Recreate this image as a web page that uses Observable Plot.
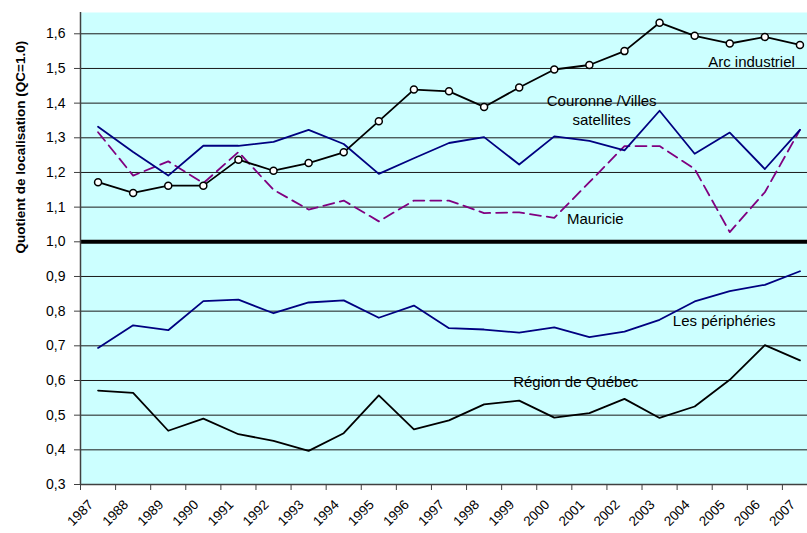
<!DOCTYPE html>
<html><head><meta charset="utf-8">
<script src="https://cdn.jsdelivr.net/npm/d3@7"></script>
<script src="https://cdn.jsdelivr.net/npm/@observablehq/plot@0.6"></script>
<style>
body{margin:0;background:#fff;overflow:hidden}
#chart svg{font-family:"Liberation Sans",Arial,sans-serif;display:block}
</style>
</head><body><div id="chart"></div>
<script>
const years = [1987,1988,1989,1990,1991,1992,1993,1994,1995,1996,1997,1998,1999,2000,2001,2002,2003,2004,2005,2006,2007];
const arcIndustriel = [1.172,1.141,1.162,1.162,1.237,1.205,1.227,1.258,1.348,1.439,1.434,1.389,1.445,1.497,1.510,1.550,1.632,1.594,1.572,1.591,1.568];
const couronne      = [1.332,1.259,1.191,1.277,1.277,1.288,1.323,1.282,1.196,1.241,1.285,1.302,1.223,1.304,1.291,1.264,1.378,1.254,1.315,1.210,1.323];
const mauricie      = [1.316,1.191,1.232,1.169,1.259,1.150,1.093,1.119,1.059,1.119,1.119,1.083,1.085,1.069,1.172,1.276,1.276,1.210,1.028,1.143,1.323];
const peripheries   = [0.694,0.759,0.745,0.829,0.833,0.794,0.825,0.831,0.781,0.816,0.751,0.747,0.738,0.753,0.725,0.741,0.775,0.828,0.858,0.876,0.915];
const regionQuebec  = [0.571,0.564,0.455,0.490,0.445,0.426,0.397,0.448,0.557,0.459,0.485,0.531,0.542,0.493,0.506,0.547,0.492,0.525,0.602,0.702,0.658];
const yTicks = [0.3,0.4,0.5,0.6,0.7,0.8,0.9,1.0,1.1,1.2,1.3,1.4,1.5,1.6];
const yTitle = "Quotient de localisation (QC=1.0)";
const seriesLabels = [
  {text:"Arc industriel", year:2005.62, value:1.523},
  {text:"Couronne /Villes\nsatellites", year:2001.35, value:1.382},
  {text:"Mauricie", year:2001.17, value:1.070},
  {text:"Les périphéries", year:2004.84, value:0.776},
  {text:"Région de Québec", year:2000.61, value:0.600}
];

const rows = arr => years.map((y,i)=>({year:y, value:arr[i]}));
const boundaries = [...years.map(y=>y-0.5), years[years.length-1]+0.5];

const chart = Plot.plot({
  width: 807,
  height: 533,
  marginLeft: 80,
  marginRight: -10,
  marginTop: 12,
  marginBottom: 49,
  style: {fontFamily: '"Liberation Sans", Arial, sans-serif', color:"#000"},
  x: {type:"linear", domain:[1986.5, 2007.5]},
  y: {domain:[0.3, 1.6614]},
  marks: [
    Plot.frame({fill:"#ccffff", stroke:null}),
    Plot.ruleY(yTicks, {stroke:"#1a1a1a", strokeWidth:1}),
    Plot.ruleY([1.0], {stroke:"#000", strokeWidth:4}),
    Plot.ruleX([1986.5], {stroke:"#404040", strokeWidth:1.5}),
    Plot.ruleY([0.3], {stroke:"#404040", strokeWidth:1.5}),
    Plot.axisY({ticks:yTicks, tickFormat:d=>d.toFixed(1).replace(".",","), tickSize:6, tickPadding:9, fontSize:14, label:null, stroke:"#404040"}),
    Plot.axisX({ticks:boundaries, tickFormat:()=>"", tickSize:6, label:null, stroke:"#404040"}),
    Plot.text(years, {x:d=>d, text:d=>String(d), frameAnchor:"bottom", rotate:-45, textAnchor:"end", dx:-4, dy:21, fontSize:13.5}),
    Plot.text([yTitle], {text:d=>d, frameAnchor:"left", rotate:-90, dx:-60, dy:5, fontSize:13.5, fontWeight:"bold"}),
    Plot.line(rows(regionQuebec), {x:"year", y:"value", stroke:"#000", strokeWidth:1.8}),
    Plot.line(rows(peripheries), {x:"year", y:"value", stroke:"#000080", strokeWidth:1.8}),
    Plot.line(rows(mauricie), {x:"year", y:"value", stroke:"#800080", strokeWidth:1.8, strokeDasharray:"11,6"}),
    Plot.line(rows(couronne), {x:"year", y:"value", stroke:"#000080", strokeWidth:1.8}),
    Plot.line(rows(arcIndustriel), {x:"year", y:"value", stroke:"#000", strokeWidth:1.8}),
    Plot.dot(rows(arcIndustriel), {x:"year", y:"value", r:3.5, fill:"#fff", stroke:"#000", strokeWidth:1.5}),
    Plot.text(seriesLabels, {x:"year", y:"value", text:"text", fontSize:15, lineHeight:1.3, fill:"#000"})
  ]
});
document.getElementById("chart").appendChild(chart);
</script>
</body></html>
